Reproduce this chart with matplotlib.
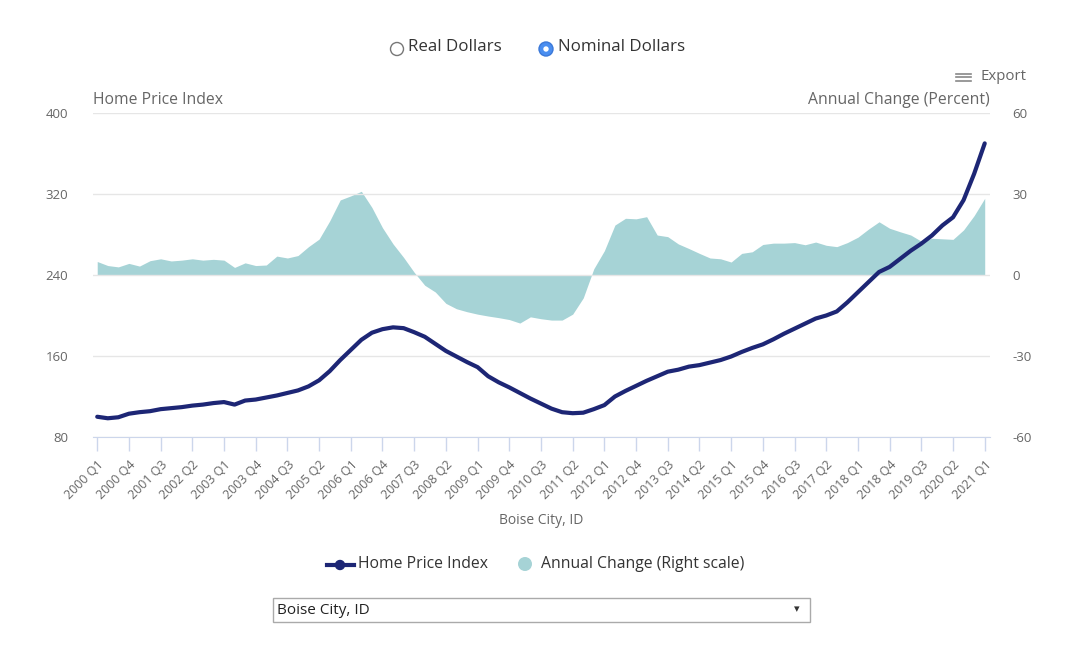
import matplotlib
matplotlib.use("Agg")
import matplotlib.pyplot as plt
from matplotlib.patches import Circle, Rectangle

plt.rcParams['font.family'] = ['Open Sans', 'DejaVu Sans']

quarters = [f"{y} Q{q}" for y in range(2000, 2021) for q in range(1, 5)] + ["2021 Q1"]

home_price_index = [
    100, 98.5, 99.5, 103, 104.5, 105.5, 107.5, 108.5, 109.5, 111,
    112, 113.5, 114.5, 112, 116, 117, 119, 121, 123.5, 126,
    130, 136, 145, 156, 166, 176, 183, 186.5, 188.3, 187.5,
    183.5, 179, 172, 165, 159.5, 154, 149, 140, 134, 129,
    123.5, 118, 113, 108, 104.5, 103.5, 104, 107.5, 111.5, 120,
    125.5, 130.5, 135.5, 140, 144.5, 146.5, 149.5, 151, 153.5, 156,
    159.5, 164, 168, 171.5, 176.5, 182, 187, 192, 197, 200,
    204, 213, 223, 233, 243, 248, 256, 264, 271, 279,
    289, 297, 314, 340, 370,
]

annual_change = [
    5, 3.5, 3, 4.3, 3.3, 5.3, 6, 5.2, 5.5, 6,
    5.5, 5.8, 5.5, 2.8, 4.5, 3.5, 3.7, 7, 6.3, 7.2,
    10.5, 13.3, 20, 27.8, 29.3, 31, 25, 17.5, 11.5, 6.5,
    1, -3.8, -6.3, -10.5, -12.5, -13.6, -14.5, -15.2, -15.8, -16.5,
    -17.8, -15.5, -16.2, -16.7, -16.7, -14.5, -8.5, 2.3, 9, 18.5,
    21, 20.8, 21.6, 14.8, 14.2, 11.5, 9.8, 8, 6.3, 6,
    4.8, 8, 8.6, 11.3, 11.8, 11.8, 12, 11.2, 12.2, 11,
    10.5, 12, 14, 17, 19.7, 17.3, 16, 14.8, 12.5, 13.6,
    13.4, 13.2, 16.7, 22, 28.4,
]

left_ticks = [80, 160, 240, 320, 400]
right_ticks = [-60, -30, 0, 30, 60]
metro = "Boise City, ID"

NAVY = "#1d2675"
TEAL = "#a6d3d6"
GRID = "#e6e6e6"
TXT = "#666666"
AXIS = "#ccd6eb"

W, H = 1079, 646
fig = plt.figure(figsize=(W / 100, H / 100), dpi=100)

def fx(px):
    return px / W

def fy(py):
    return 1 - py / H

ax = fig.add_axes([fx(93), fy(437), fx(990) - fx(93), fy(113) - fy(437)])
ax2 = ax.twinx()

n = len(quarters)
xs = list(range(n))

ax2.fill_between(xs, annual_change, 0, color=TEAL, lw=0, zorder=1)
ax2.set_ylim(-60, 60)
ax2.set_yticks(right_ticks)
ax2.set_yticklabels([str(t) for t in right_ticks])

ax.set_ylim(80, 400)
ax.set_yticks(left_ticks)
ax.set_yticklabels([str(t) for t in left_ticks])
for t in left_ticks:
    ax.axhline(t, color=GRID, lw=1, zorder=0)

ax.set_zorder(ax2.get_zorder() + 1)
ax.patch.set_visible(False)
ax.plot(xs, home_price_index, color=NAVY, lw=3, zorder=3, solid_capstyle='round')

ax.set_xlim(-0.4, n - 1 + 0.5)
tick_idx = list(range(0, n, 3))
ax.set_xticks(tick_idx)
ax.set_xticklabels([quarters[i] for i in tick_idx], rotation=45, ha='right',
                   rotation_mode='anchor', fontsize=9, color=TXT)

for a in (ax, ax2):
    for s in a.spines.values():
        s.set_visible(False)
ax.spines['bottom'].set_visible(True)
ax.spines['bottom'].set_color(AXIS)
ax.tick_params(axis='x', length=10, color=AXIS, width=1, pad=5)
ax.tick_params(axis='y', length=0, labelsize=9.5, labelcolor=TXT, pad=18)
ax2.tick_params(axis='y', length=0, labelsize=9.5, labelcolor=TXT, pad=16)
ax2.tick_params(axis='x', length=0)

ax.set_xlabel(metro, fontsize=10, color=TXT, labelpad=8)

fig.text(fx(93), fy(100), "Home Price Index", fontsize=11.3, color=TXT, ha='left', va='center')
fig.text(fx(990), fy(100), "Annual Change (Percent)", fontsize=11.3, color=TXT, ha='right', va='center')

ax_ui = fig.add_axes([0, 0, 1, 1], zorder=10)
ax_ui.set_xlim(0, W)
ax_ui.set_ylim(H, 0)
ax_ui.axis('off')
ax_ui.add_patch(Circle((397, 49), 6.5, facecolor='white', edgecolor='#777777', lw=1))
ax_ui.text(408, 47, "Real Dollars", fontsize=12.2, color='#333333', va='center', ha='left')
ax_ui.add_patch(Circle((546, 49), 7, facecolor='#4a8ef0', edgecolor='#3b78d8', lw=1))
ax_ui.add_patch(Circle((546, 49), 2.7, facecolor='white', edgecolor='none'))
ax_ui.text(558, 47, "Nominal Dollars", fontsize=12.2, color='#333333', va='center', ha='left')

for dy in (-3.5, 0, 3.5):
    ax_ui.plot([956, 971], [77 + dy, 77 + dy], color='#888888', lw=1.2)
ax_ui.text(980, 77, "Export", fontsize=10.8, color=TXT, va='center', ha='left')

ax_ui.plot([327, 354], [565, 565], color=NAVY, lw=3)
ax_ui.add_patch(Circle((340, 565), 4.5, facecolor=NAVY, edgecolor=NAVY))
ax_ui.text(358, 564, "Home Price Index", fontsize=11.3, color='#333333', va='center', ha='left')
ax_ui.add_patch(Circle((525, 564), 7, facecolor=TEAL, edgecolor='none'))
ax_ui.text(541, 564, "Annual Change (Right scale)", fontsize=11.3, color='#333333', va='center', ha='left')

ax_ui.add_patch(Rectangle((273, 598), 537, 24, facecolor='white', edgecolor='#aaaaaa', lw=1))
ax_ui.text(277, 610, metro, fontsize=11, color='#222222', va='center', ha='left')
ax_ui.text(797, 610, "\u25be", fontsize=8, color='#333333', va='center', ha='center')

fig.savefig("out.png", dpi=100)
